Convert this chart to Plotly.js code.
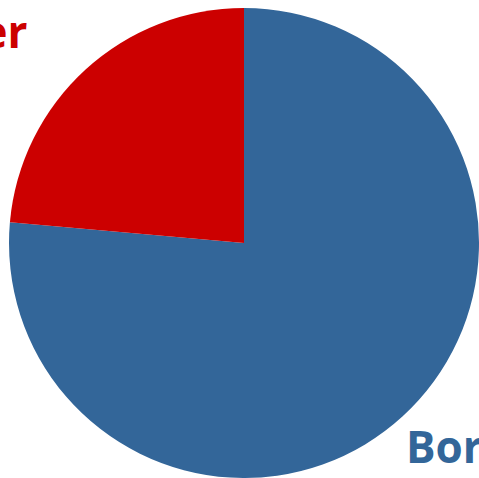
<!DOCTYPE html>
<html>
<head>
<meta charset="utf-8">
<script src="https://cdn.plot.ly/plotly-3.0.1.min.js"></script>
<style>html,body{margin:0;padding:0;background:#fff;}#chart{width:479px;height:478px;}</style>
</head>
<body>
<div id="chart"></div>
<script>
const labels = ["Borrower", "Lender"];
const values = [76.4, 23.6];
const colors = ["#336699", "#CC0000"];

const data = [{
  type: "pie",
  labels: labels,
  values: values,
  sort: false,
  direction: "counterclockwise",
  rotation: 0,
  marker: {colors: colors, line: {width: 0}},
  textinfo: "none",
  hoverinfo: "label+percent",
  showlegend: false
}];

const layout = {
  width: 479, height: 478,
  margin: {l: 9, r: 0, t: 8, b: 0},
  paper_bgcolor: "#ffffff",
  showlegend: false,
  annotations: [
    {text: "<b>" + labels[1] + "</b>", xref: "paper", yref: "paper", x: 0.0447, y: 0.951,
     xanchor: "right", yanchor: "middle", showarrow: false,
     font: {family: "Open Sans", size: 44, color: colors[1]}},
    {text: "<b>" + labels[0] + "</b>", xref: "paper", yref: "paper", x: 0.84, y: 0.068,
     xanchor: "left", yanchor: "middle", showarrow: false,
     font: {family: "Open Sans", size: 44, color: colors[0]}}
  ]
};

Plotly.newPlot("chart", data, layout, {displayModeBar: false, staticPlot: true});
</script>
</body>
</html>
